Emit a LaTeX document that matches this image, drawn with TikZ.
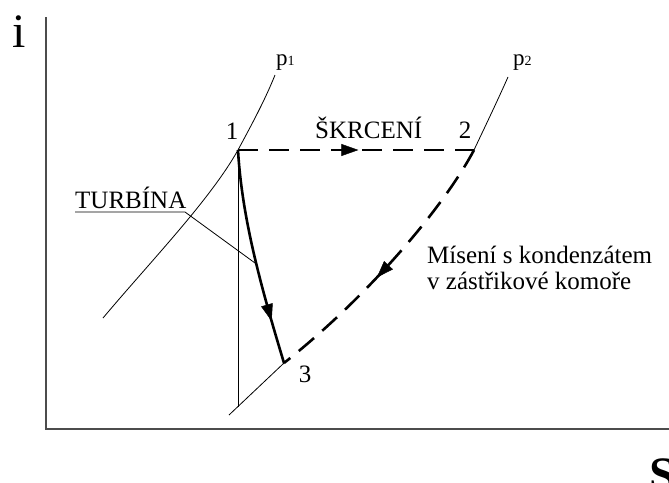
\documentclass[tikz,border=0pt]{standalone}
\usepackage{fontspec}
\setmainfont{Liberation Serif}
\usetikzlibrary{decorations.markings,arrows.meta}
\begin{document}
\begin{tikzpicture}[x=1pt,y=-1pt,
  thin line/.style={line width=0.8pt,black},
  axis line/.style={line width=1.3pt,black!70},
  thick line/.style={line width=2.6pt,black},
  dash line/.style={line width=2.6pt,black,dash pattern=on 20pt off 11pt},
  lbl/.style={inner sep=0pt,font=\fontsize{25}{30}\selectfont},
  midarrow/.style={postaction={decorate},decoration={markings,
     mark=at position #1 with {\arrow{Triangle[length=17pt,width=12pt]}}}}
]
\useasboundingbox (0,0) rectangle (669,482);
% axes
\coordinate (ytop) at (46,17);
\coordinate (orig) at (46,429);
\coordinate (xend) at (669,429);
\draw[axis line] (ytop) -- (orig) -- (xend);
\node[inner sep=0pt,anchor=base,font=\fontsize{48}{48}\selectfont] (ilab) at (19,47) {i};
\node[inner sep=0pt,anchor=base west,font=\fontsize{48}{48}\selectfont\bfseries] (slab) at (649,490) {S};
% state points
\coordinate (P1) at (238,150);
\coordinate (P2) at (474,150);
\coordinate (P3) at (284,363);
\coordinate (low) at (229,415);
\coordinate (vbot) at (238,406.5);
\coordinate (p1lo) at (103,318);
\coordinate (p1hi) at (275,75);
\coordinate (p2hi) at (508,77);
% isobars
\draw[thin line] (p1lo) .. controls (150,262) and (210,200) .. (P1)
   .. controls (252,124) and (265,100) .. (p1hi);
\draw[thin line] (P2) .. controls (482,133) and (496,104) .. (p2hi);
\draw[thin line] (P3) -- (low);
\draw[thin line] (P1) -- (vbot);
% throttling
\draw[dash line] (P1) -- (P2);
\path[midarrow=0.51] (P1) -- (P2);
% turbine expansion
\draw[thick line] (P1) .. controls (242,220) and (262,290) .. (P3);
\path[midarrow=0.8] (P1) .. controls (242,220) and (262,290) .. (P3);
% mixing
\draw[dash line] (P2) .. controls (445,205) and (370,295) .. (P3);
\path[midarrow=0.56] (P2) .. controls (445,205) and (370,295) .. (P3);
% labels
\node[lbl,anchor=base] (n1) at (232,139) {1};
\node[lbl,anchor=base] (n2) at (465,138) {2};
\node[lbl,anchor=base] (n3) at (305,382) {3};
\node[lbl,anchor=base west] (skr) at (315,138) {ŠKRCENÍ};
\node[inner sep=0pt,anchor=base west,font=\fontsize{23}{26}\selectfont] (pa) at (276,65) {p{\fontsize{14}{16}\selectfont 1}};
\node[inner sep=0pt,anchor=base west,font=\fontsize{23}{26}\selectfont] (pb) at (513,65) {p{\fontsize{14}{16}\selectfont 2}};
\node[lbl,anchor=base west] (turb) at (75,208) {TURBÍNA};
\coordinate (ul) at (75,212);
\coordinate (ur) at (185,212);
\coordinate (tl) at (255,263);
\draw[thin line] (ul) -- (ur) -- (tl);
\node[lbl,anchor=base west] (mix1) at (427,263) {Mísení s kondenzátem};
\node[lbl,anchor=base west] (mix2) at (427,289) {v zástřikové komoře};
\end{tikzpicture}
\end{document}
